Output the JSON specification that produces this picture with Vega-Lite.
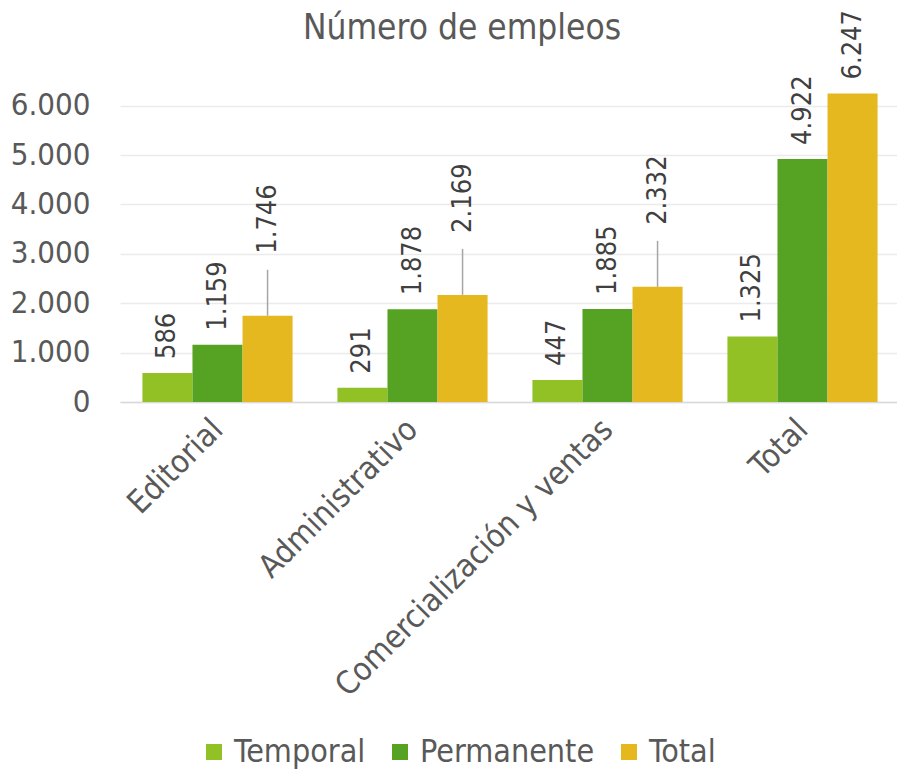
{
  "$schema": "https://vega.github.io/schema/vega-lite/v6.json",
  "width": 780,
  "height": 321,
  "autosize": "none",
  "padding": {"left": 120, "top": 81, "right": 0, "bottom": 373},
  "config": {
    "font": "DejaVu Sans Condensed",
    "view": {"stroke": null},
    "locale": {"number": {"decimal": ",", "thousands": ".", "grouping": [3], "currency": ["", " €"]}}
  },
  "title": {
    "text": "Número de empleos",
    "fontSize": 35,
    "fontWeight": "normal",
    "color": "#595959",
    "frame": "group",
    "anchor": "middle",
    "dx": -48,
    "offset": -36
  },
  "data": {
    "values": [
      {"cat": "Editorial", "series": "Temporal", "value": 586},
      {"cat": "Editorial", "series": "Permanente", "value": 1159},
      {"cat": "Editorial", "series": "Total", "value": 1746},
      {"cat": "Administrativo", "series": "Temporal", "value": 291},
      {"cat": "Administrativo", "series": "Permanente", "value": 1878},
      {"cat": "Administrativo", "series": "Total", "value": 2169},
      {"cat": "Comercialización y ventas", "series": "Temporal", "value": 447},
      {"cat": "Comercialización y ventas", "series": "Permanente", "value": 1885},
      {"cat": "Comercialización y ventas", "series": "Total", "value": 2332},
      {"cat": "Total", "series": "Temporal", "value": 1325},
      {"cat": "Total", "series": "Permanente", "value": 4922},
      {"cat": "Total", "series": "Total", "value": 6247}
    ]
  },
  "encoding": {
    "x": {
      "field": "cat",
      "type": "nominal",
      "sort": null,
      "scale": {"paddingInner": 0.23, "paddingOuter": 0.115},
      "axis": {
        "title": null,
        "labelAngle": -45,
        "labelAlign": "right",
        "labelBaseline": "middle",
        "labelFontSize": 32,
        "labelColor": "#595959",
        "labelPadding": 22,
        "labelLimit": 600,
        "ticks": false,
        "domainColor": "#D9D9D9",
        "domainWidth": 1.5,
        "grid": false
      }
    },
    "xOffset": {"field": "series", "sort": ["Temporal", "Permanente", "Total"]},
    "y": {
      "field": "value",
      "type": "quantitative",
      "scale": {"domain": [0, 6500], "nice": false},
      "axis": {
        "title": null,
        "values": [0, 1000, 2000, 3000, 4000, 5000, 6000],
        "format": ",d",
        "labelFontSize": 31,
        "labelColor": "#595959",
        "labelPadding": 30,
        "ticks": false,
        "domain": false,
        "gridColor": "#EBEBEB",
        "gridWidth": 1.5
      }
    }
  },
  "layer": [
    {
      "mark": {"type": "bar"},
      "encoding": {
        "color": {
          "field": "series",
          "type": "nominal",
          "sort": ["Temporal", "Permanente", "Total"],
          "scale": {"domain": ["Temporal", "Permanente", "Total"], "range": ["#92C126", "#56A222", "#E5B81F"]},
          "legend": {
            "title": null,
            "orient": "none",
            "direction": "horizontal",
            "legendX": 78,
            "legendY": 655,
            "symbolType": "square",
            "symbolSize": 256,
            "symbolStrokeWidth": 0,
            "labelFontSize": 32,
            "labelLimit": 400,
            "labelColor": "#595959",
            "labelOffset": 4,
            "columnPadding": 18
          }
        }
      }
    },
    {
      "transform": [{"filter": "!(datum.series == 'Total' && datum.cat != 'Total')"}],
      "mark": {"type": "text", "angle": -90, "align": "left", "baseline": "middle", "dx": 14, "fontSize": 27, "color": "#404040"},
      "encoding": {"text": {"field": "value", "type": "quantitative", "format": ",d"}}
    },
    {
      "transform": [{"filter": "datum.series == 'Total' && datum.cat != 'Total'"}],
      "mark": {"type": "text", "angle": -90, "align": "left", "baseline": "middle", "dx": 62, "fontSize": 27, "color": "#404040"},
      "encoding": {"text": {"field": "value", "type": "quantitative", "format": ",d"}}
    },
    {
      "transform": [{"filter": "datum.series == 'Total' && datum.cat != 'Total'"}],
      "mark": {"type": "rule", "color": "#A6A6A6", "strokeWidth": 1.5, "y2Offset": -46},
      "encoding": {"y2": {"field": "value"}}
    }
  ]
}
